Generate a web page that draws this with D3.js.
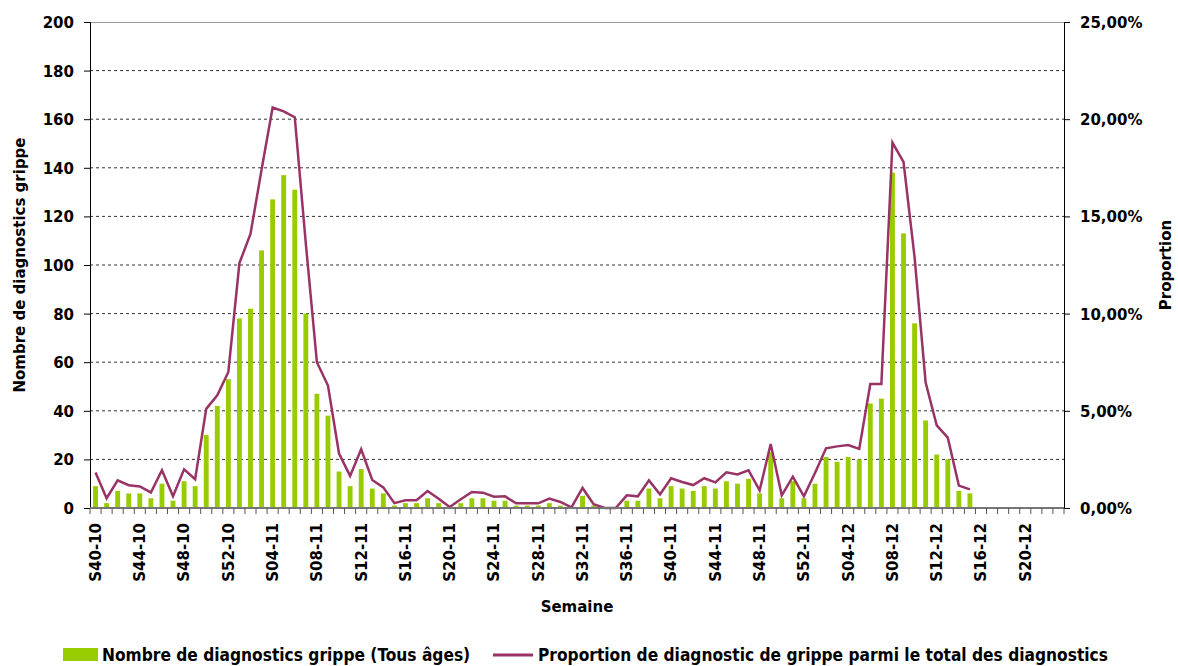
<!DOCTYPE html>
<html>
<head>
<meta charset="utf-8">
<script src="https://cdn.jsdelivr.net/npm/d3@7"></script>
<style>
  body { margin: 0; background: #fff; }
  text { font-family: "DejaVu Sans", sans-serif; font-weight: bold; fill: #000; }
</style>
</head>
<body>
<div id="chart"></div>
<script>
// weeks S40-10 .. S23-12 (88 weeks, data up to S15-12)
const weeks = [];
for (let w = 40; w <= 52; w++) weeks.push("S" + String(w).padStart(2, "0") + "-10");
for (let w = 1; w <= 52; w++) weeks.push("S" + String(w).padStart(2, "0") + "-11");
for (let w = 1; w <= 23; w++) weeks.push("S" + String(w).padStart(2, "0") + "-12");

// Nombre de diagnostics grippe (Tous âges)
const counts = [
  9, 2, 7, 6, 6, 4, 10, 3, 11, 9, 30, 42, 53,
  78, 82, 106, 127, 137, 131, 80, 47, 38, 15, 9, 16, 8, 6, 1, 2, 2, 4, 2, 0, 2, 4, 4, 3, 3, 1, 1, 1, 2, 1, 0, 5, 1, 0, 0,
  3, 3, 8, 4, 9, 8, 7, 9, 8, 11, 10, 12, 6, 23, 4, 11, 4,
  10, 21, 19, 21, 20, 43, 45, 138, 113, 76, 36, 22, 20, 7, 6
];

// Proportion de diagnostic de grippe parmi le total des diagnostics (%)
const proportions = [
  1.82, 0.5, 1.42, 1.17, 1.11, 0.8, 1.94, 0.6, 1.99, 1.48, 5.1, 5.8, 7.0,
  12.6, 14.1, 17.4, 20.6, 20.4, 20.1, 13.6, 7.5, 6.3, 2.8, 1.65, 3.02, 1.44, 1.06, 0.25, 0.4, 0.4, 0.87, 0.48, 0.05, 0.45, 0.82, 0.79, 0.58, 0.6, 0.24, 0.24, 0.24, 0.48, 0.31, 0.03, 1.03, 0.19, 0, 0,
  0.65, 0.6, 1.42, 0.7, 1.53, 1.34, 1.18, 1.53, 1.32, 1.84, 1.73, 1.94, 0.91, 3.29, 0.65, 1.61, 0.6,
  1.8, 3.07, 3.17, 3.24, 3.04, 6.38, 6.38, 18.8, 17.8, 12.9, 6.45, 4.25, 3.62, 1.15, 0.96
];

const countTicks = [0, 20, 40, 60, 80, 100, 120, 140, 160, 180, 200];
const propTicks = [0, 5, 10, 15, 20, 25];

const width = 1178, height = 666;
const margin = { top: 22, right: 114, bottom: 158, left: 90 };
const innerW = width - margin.left - margin.right;
const innerH = height - margin.top - margin.bottom;

const svg = d3.select("#chart")
  .append("svg")
  .attr("width", width)
  .attr("height", height);

const g = svg.append("g")
  .attr("transform", `translate(${margin.left},${margin.top})`);

const x = d3.scaleBand().domain(weeks).range([0, innerW]).padding(0);
const xBar = d3.scaleBand().domain(weeks).range([0, innerW])
  .paddingInner(0.56).paddingOuter(0.28);
const y = d3.scaleLinear().domain([0, 200]).range([innerH, 0]);
const y2 = d3.scaleLinear().domain([0, 25]).range([innerH, 0]);

// gridlines
g.selectAll(".grid")
  .data(countTicks.filter(d => d > 0 && d < 200))
  .join("line")
  .attr("x1", 0).attr("x2", innerW)
  .attr("y1", d => y(d)).attr("y2", d => y(d))
  .attr("stroke", "#333")
  .attr("stroke-width", 1)
  .attr("stroke-dasharray", "3,3");

// top border
g.append("line")
  .attr("x1", 0).attr("x2", innerW)
  .attr("y1", 0.5).attr("y2", 0.5)
  .attr("stroke", "#999");

// bars
g.selectAll(".bar")
  .data(counts)
  .join("rect")
  .attr("x", (d, i) => xBar(weeks[i]))
  .attr("y", d => y(d))
  .attr("width", xBar.bandwidth())
  .attr("height", d => innerH - y(d))
  .attr("fill", "#99cc00");

// line
const line = d3.line()
  .x((d, i) => x(weeks[i]) + x.bandwidth() / 2)
  .y(d => y2(d));

g.append("path")
  .datum(proportions)
  .attr("d", line)
  .attr("fill", "none")
  .attr("stroke", "#993366")
  .attr("stroke-width", 2.5)
  .attr("stroke-linejoin", "miter");

// left axis
const yAxis = g.append("g")
  .call(d3.axisLeft(y).tickValues(countTicks).tickSize(6).tickPadding(10));
yAxis.select(".domain").attr("stroke", "#000");
yAxis.selectAll("text").style("font-size", "15px").attr("dy", "0.36em");

// right axis
const y2Axis = g.append("g")
  .attr("transform", `translate(${innerW},0)`)
  .call(d3.axisRight(y2).tickValues(propTicks).tickSize(6).tickPadding(10)
    .tickFormat(d => d3.format(".2f")(d).replace(".", ",") + "%"));
y2Axis.select(".domain").attr("stroke", "#000");
y2Axis.selectAll("text").style("font-size", "15px").attr("dy", "0.36em");

// bottom axis: ticks at week boundaries
const xAxis = g.append("g").attr("transform", `translate(0,${innerH})`);
xAxis.append("line")
  .attr("x1", 0).attr("x2", innerW)
  .attr("stroke", "#777").attr("stroke-width", 2);
xAxis.selectAll(".tick")
  .data(weeks.concat(["end"]))
  .join("line")
  .attr("x1", (d, i) => i < weeks.length ? x(d) : innerW)
  .attr("x2", (d, i) => i < weeks.length ? x(d) : innerW)
  .attr("y1", 0).attr("y2", 6)
  .attr("stroke", "#555");
xAxis.selectAll(".lab")
  .data(weeks.filter((d, i) => i % 4 === 0))
  .join("text")
  .attr("transform", d => `translate(${x(d) + x.bandwidth() / 2},15) rotate(-90)`)
  .attr("text-anchor", "end")
  .attr("dy", "0.36em")
  .style("font-size", "15px")
  .text(d => d);

// axis titles
svg.append("text")
  .attr("transform", `translate(20,${margin.top + innerH / 2}) rotate(-90)`)
  .attr("text-anchor", "middle")
  .attr("dy", "0.36em")
  .style("font-size", "15px")
  .text("Nombre de diagnostics grippe");

svg.append("text")
  .attr("transform", `translate(1166,${margin.top + innerH / 2}) rotate(-90)`)
  .attr("text-anchor", "middle")
  .attr("dy", "0.36em")
  .style("font-size", "15px")
  .text("Proportion");

svg.append("text")
  .attr("x", margin.left + innerW / 2)
  .attr("y", 612)
  .attr("text-anchor", "middle")
  .style("font-size", "15px")
  .text("Semaine");

// legend
const legend = svg.append("g");
legend.append("rect")
  .attr("x", 63).attr("y", 648).attr("width", 35).attr("height", 13)
  .attr("fill", "#99cc00");
legend.append("text")
  .attr("x", 102).attr("y", 661)
  .style("font-size", "17.2px")
  .style("font-family", "'DejaVu Sans Condensed', sans-serif")
  .text("Nombre de diagnostics grippe (Tous âges)");
legend.append("line")
  .attr("x1", 493).attr("x2", 533).attr("y1", 655).attr("y2", 655)
  .attr("stroke", "#993366").attr("stroke-width", 3);
legend.append("text")
  .attr("x", 538).attr("y", 661)
  .style("font-size", "17.2px")
  .style("font-family", "'DejaVu Sans Condensed', sans-serif")
  .text("Proportion de diagnostic de grippe parmi le total des diagnostics");
</script>
</body>
</html>
